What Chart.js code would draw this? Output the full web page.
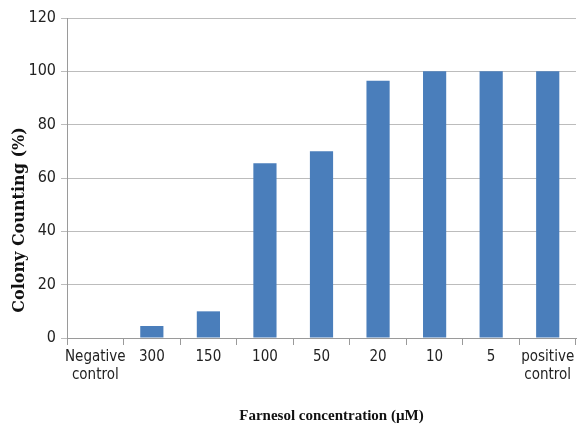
<!DOCTYPE html>
<html>
<head>
<meta charset="utf-8">
<script src="https://cdn.jsdelivr.net/npm/chart.js@4.4.0/dist/chart.umd.min.js"></script>
<style>
  html, body { margin: 0; padding: 0; background: #ffffff; }
  #wrap { width: 578px; height: 430px; }
</style>
</head>
<body>
<div id="wrap"><canvas id="grafico" width="578" height="430"></canvas></div>
<script>
// Datos del gráfico
const categorias = [
  ["Negative", "control"], "300", "150", "100", "50", "20", "10", "5", ["positive", "control"]
];
const colonias = [0, 4.5, 10, 65.5, 70, 96.5, 100, 100, 100];
const ticksY = [0, 20, 40, 60, 80, 100, 120];
const tituloX = "Farnesol concentration (µM)";
const tituloY = "Colony Counting (%)";

const fuenteEtiquetas = "'Liberation Sans Narrow', 'DejaVu Sans Condensed', sans-serif";

// Títulos de los ejes, dibujados fuera del centro como en la figura original
const titulosEjes = {
  id: "titulosEjes",
  afterDraw(chart) {
    const ctx = chart.ctx;
    const area = chart.chartArea;
    ctx.save();
    ctx.fillStyle = "#111";
    ctx.textAlign = "center";
    ctx.textBaseline = "middle";
    ctx.font = "bold 15px 'Liberation Serif', serif";
    ctx.fillText(tituloX, (area.left + area.right) / 2 + 10, 416);
    ctx.translate(20, area.bottom - 118);
    ctx.rotate(-Math.PI / 2);
    ctx.font = "bold 16px 'DejaVu Serif', serif";
    ctx.fillText(tituloY, 0, 0);
    ctx.restore();
  }
};

new Chart(document.getElementById("grafico"), {
  type: "bar",
  data: {
    labels: categorias,
    datasets: [{
      label: tituloY,
      data: colonias,
      backgroundColor: "#4a7ebb",
      borderWidth: 0,
      categoryPercentage: 1,
      barPercentage: 0.41
    }]
  },
  options: {
    responsive: false,
    animation: false,
    layout: { padding: { top: 18, right: 2, left: 0, bottom: 4 } },
    plugins: {
      legend: { display: false },
      tooltip: { enabled: false }
    },
    scales: {
      x: {
        offset: true,
        grid: {
          offset: true,
          drawOnChartArea: false,
          color: "#9a9a9a",
          tickLength: 7
        },
        border: { color: "#9a9a9a", width: 1 },
        ticks: {
          color: "#222",
          maxRotation: 0,
          autoSkip: false,
          padding: 3,
          font: { family: fuenteEtiquetas, size: 15 }
        },
        afterFit: function (escala) { escala.height = 88; }
      },
      y: {
        min: 0,
        max: 120,
        afterBuildTicks: function (escala) {
          escala.ticks = ticksY.map(v => ({ value: v }));
        },
        grid: { color: "#bcbcbc", tickLength: 6 },
        border: { color: "#9a9a9a", width: 1 },
        ticks: {
          color: "#222",
          padding: 5,
          font: { family: fuenteEtiquetas, size: 16 }
        },
        afterFit: function (escala) { escala.width = 67; }
      }
    }
  },
  plugins: [titulosEjes]
});
</script>
</body>
</html>
